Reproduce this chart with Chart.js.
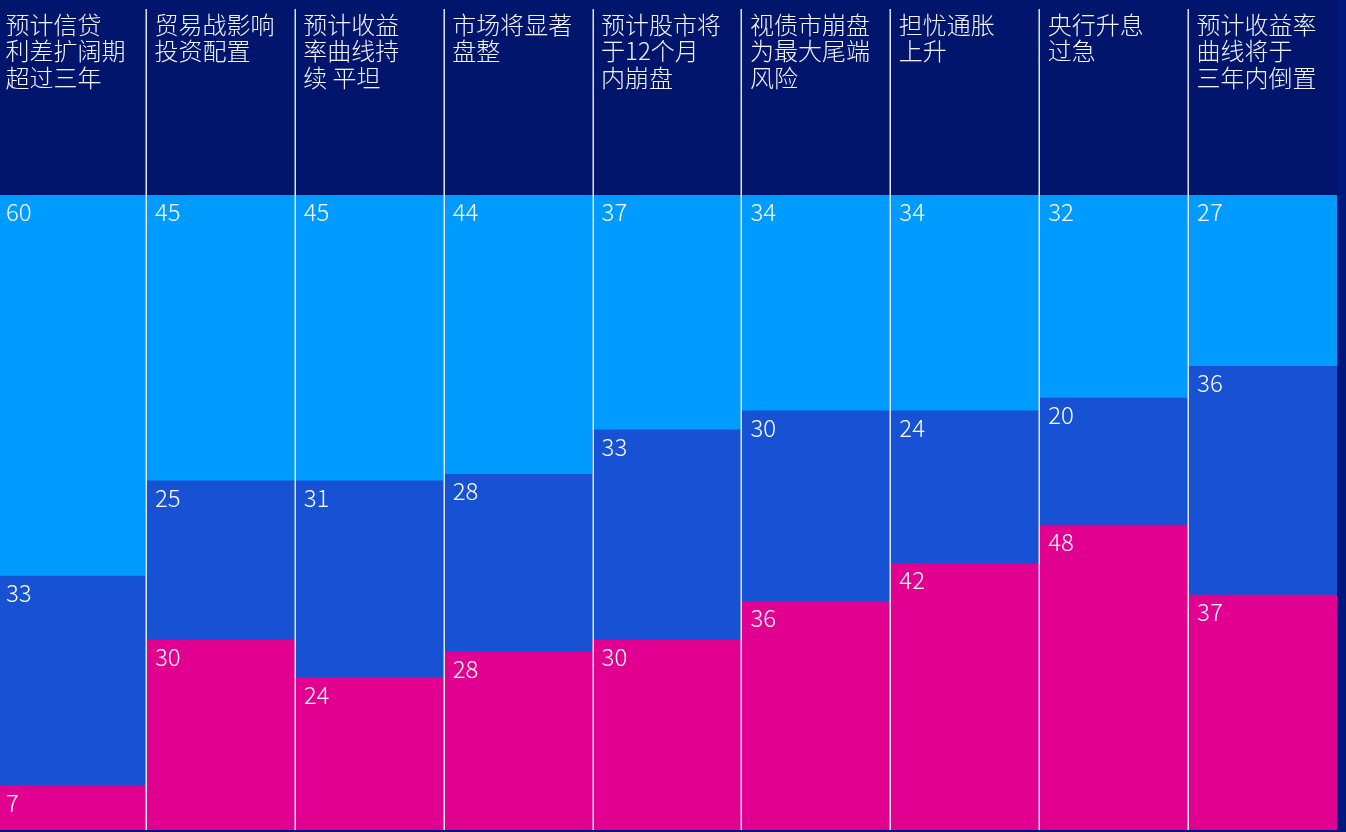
<!DOCTYPE html>
<html>
<head>
<meta charset="utf-8">
<script src="https://cdn.jsdelivr.net/npm/chart.js@4/dist/chart.umd.min.js"></script>
<style>
  html, body { margin: 0; padding: 0; background: #00187c; overflow: hidden; }
  #wrap { position: absolute; left: -3px; top: 0; width: 1340px; height: 830px; }
</style>
</head>
<body>
<div id="wrap"><canvas id="stackChart"></canvas></div>
<script>
// survey themes, one column each; header lines split by hand
const themes = [
  ['预计信贷', '利差扩阔期', '超过三年'],
  ['贸易战影响', '投资配置'],
  ['预计收益', '率曲线持', '续 平坦'],
  ['市场将显著', '盘整'],
  ['预计股市将', '于12个月', '内崩盘'],
  ['视债市崩盘', '为最大尾端', '风险'],
  ['担忧通胀', '上升'],
  ['央行升息', '过急'],
  ['预计收益率', '曲线将于', '三年内倒置']
];

// percentages, stacked bottom to top
const bottomShare = [7, 30, 24, 28, 30, 36, 42, 48, 37];
const middleShare = [33, 25, 31, 28, 33, 30, 24, 20, 36];
const topShare    = [60, 45, 45, 44, 37, 34, 34, 32, 27];

const HEADER_H = 195;
const CJK = '"Noto Sans CJK SC", "Noto Sans", sans-serif';

const headerPlugin = {
  id: 'header',
  beforeDraw(chart) {
    const { ctx, width } = chart;
    ctx.save();
    ctx.fillStyle = '#00156b';
    ctx.fillRect(0, 0, width, chart.height);
    ctx.restore();
  },
  afterDraw(chart) {
    const { ctx, chartArea } = chart;
    const x = chart.scales.x;
    const colW = (chartArea.right - chartArea.left) / themes.length;

    // header titles
    ctx.save();
    ctx.fillStyle = '#f4f5fa';
    ctx.font = '300 24px ' + CJK;
    ctx.textBaseline = 'alphabetic';
    ctx.textAlign = 'left';
    themes.forEach((lines, i) => {
      const left = x.getPixelForValue(i) - colW / 2;
      lines.forEach((t, j) => ctx.fillText(t, left + 8.5, 34 + j * 26.3));
    });

    // column separators
    ctx.strokeStyle = '#dfe3f0';
    ctx.lineWidth = 1.5;
    for (let i = 1; i < themes.length; i++) {
      const bx = Math.round(x.getPixelForValue(i) - colW / 2) + 0.25;
      ctx.beginPath();
      ctx.moveTo(bx, 9);
      ctx.lineTo(bx, chartArea.bottom);
      ctx.stroke();
    }

    // segment values, top-left of each block
    ctx.fillStyle = '#ffffff';
    ctx.font = '300 24px ' + CJK;
    chart.data.datasets.forEach((ds, di) => {
      const meta = chart.getDatasetMeta(di);
      meta.data.forEach((bar, i) => {
        const left = x.getPixelForValue(i) - colW / 2;
        const top = Math.min(bar.y, bar.base);
        ctx.fillText(String(ds.data[i]), left + 9, top + 26);
      });
    });
    ctx.restore();
  }
};

new Chart(document.getElementById('stackChart'), {
  type: 'bar',
  data: {
    labels: themes.map(l => l.join('')),
    datasets: [
      { data: bottomShare, backgroundColor: '#e1008f' },
      { data: middleShare, backgroundColor: '#1652d3' },
      { data: topShare, backgroundColor: '#009bfe' }
    ]
  },
  options: {
    responsive: true,
    maintainAspectRatio: false,
    animation: false,
    layout: { padding: { top: HEADER_H, left: 0, right: 0, bottom: 0 } },
    datasets: { bar: { barPercentage: 1, categoryPercentage: 1, borderWidth: 0 } },
    plugins: { legend: { display: false }, tooltip: { enabled: false } },
    scales: {
      x: { stacked: true, display: false },
      y: { stacked: true, display: false, min: 0, max: 100 }
    }
  },
  plugins: [headerPlugin]
});
</script>
</body>
</html>
